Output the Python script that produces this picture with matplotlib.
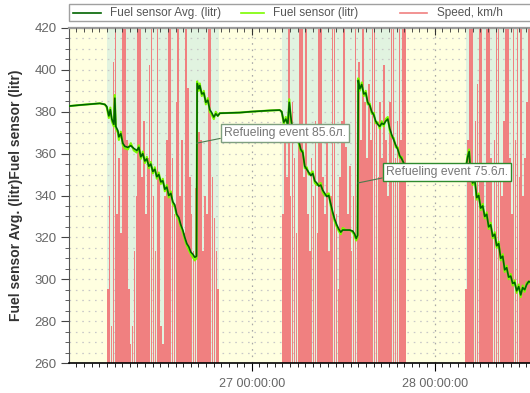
import datetime as dt
import numpy as np
import matplotlib
matplotlib.use("Agg")
import matplotlib.pyplot as plt
import matplotlib.dates as mdates
from matplotlib.lines import Line2D
from matplotlib.patches import Rectangle
from matplotlib.ticker import MultipleLocator

plt.rcParams['font.family'] = ['Liberation Sans', 'DejaVu Sans']

BASE = dt.datetime(2023, 3, 26)
X_START_H = 0.02
X_END_H = 60.5

# ---------------- data ----------------
# fuel samples: hours since 26 00:00
fuel_hours = [
    0.00, 1.44, 2.75, 4.07, 4.72, 4.98, 5.25, 5.44, 5.64, 5.90,
    6.03, 6.16, 6.43, 6.56, 6.82, 7.08, 7.34, 7.74, 8.13, 8.52,
    8.92, 9.18, 9.44, 9.70, 9.97, 10.23, 10.49, 10.75, 11.02, 11.28,
    11.54, 11.80, 12.07, 12.33, 12.59, 12.85, 13.11, 13.38, 13.64, 13.90,
    14.16, 14.43, 14.69, 14.95, 15.21, 15.48, 15.74, 16.00, 16.26, 16.52,
    16.75,
    16.83, 17.05, 17.18, 17.44, 17.70, 17.97, 18.23, 18.49, 18.75, 19.02,
    19.28, 19.54, 19.80, 22.43, 23.74, 26.36, 27.67,
    27.93, 28.20, 28.46, 28.72, 28.92, 29.11, 29.38, 29.64, 29.90, 30.16,
    30.43, 30.69, 30.95, 31.21, 31.48, 31.74, 32.00, 32.26, 32.52, 32.79,
    33.05, 33.31, 33.57, 33.84, 34.10, 34.36, 34.62, 34.89, 35.15, 35.41,
    35.67, 35.93, 36.33, 36.85, 37.25, 37.51, 37.70, 37.88,
    37.97, 38.16, 38.43, 38.69, 38.95, 39.21, 39.48, 39.74, 40.00, 40.26,
    40.52, 40.79, 41.05, 41.31, 41.57, 41.84, 42.10, 42.36, 42.62, 42.89,
    43.15, 43.41, 43.67, 43.93, 44.20, 48.13, 52.07,
    52.33, 52.52, 52.72, 52.98, 53.25, 53.51, 53.77, 54.03, 54.30, 54.56,
    54.82, 55.08, 55.34, 55.61, 55.87, 56.13, 56.39, 56.66, 56.92, 57.18,
    57.44, 57.70, 57.97, 58.23, 58.49, 58.75, 59.02, 59.28, 59.54, 59.80,
    60.07, 60.33, 60.59,
]

fuel_avg = [
    382.7, 383.2, 383.6, 384.0, 383.5, 382.5, 378.0, 381.0, 376.5, 374.0,
    386.5, 373.0, 371.0, 368.0, 369.5, 365.0, 363.5, 363.0, 363.8, 362.5,
    361.5, 363.0, 358.5, 360.0, 356.5, 357.5, 354.0, 355.0, 351.5, 352.5,
    349.0, 350.0, 346.5, 347.0, 343.0, 344.0, 340.0, 341.0, 337.0, 335.5,
    331.0, 329.5, 326.0, 323.5, 320.0, 317.0, 315.5, 313.0, 312.0, 310.5,
    311.0,
    393.5, 391.0, 392.5, 388.5, 389.0, 384.5, 385.5, 381.0, 379.5, 377.5,
    379.0, 378.0, 379.3, 379.6, 380.0, 380.6, 380.8,
    380.0, 375.0, 376.5, 374.0, 384.5, 378.0, 370.0, 371.5, 367.0, 366.0,
    362.0, 360.5, 354.0, 352.5, 351.0, 349.5, 350.5, 347.0, 346.0, 344.5,
    345.0, 342.5, 341.0, 339.5, 340.0, 336.0, 332.0, 328.5, 326.0, 324.0,
    322.5, 323.5, 323.5, 323.5, 323.0, 321.5, 319.5, 321.0,
    395.0, 391.0, 393.0, 388.5, 389.0, 384.5, 383.0, 380.0, 378.5, 375.5,
    374.0, 373.0, 374.5, 374.0, 375.5, 376.5, 372.0, 369.0, 366.5, 364.0,
    362.0, 359.0, 357.5, 355.5, 353.5, 352.0, 353.0,
    358.5, 361.0, 350.0, 346.0, 347.5, 339.0, 340.0, 334.0, 335.0, 330.0,
    331.0, 325.0, 326.0, 320.5, 321.5, 316.0, 317.0, 310.0, 311.0, 304.5,
    305.5, 301.0, 301.5, 298.0, 298.5, 294.5, 296.5, 292.5, 296.0, 295.0,
    297.5, 299.0, 298.5,
]

fuel_raw = [
    382.7, 383.2, 383.6, 384.0, 383.5, 382.0, 377.0, 382.0, 375.5, 373.0,
    388.0, 372.0, 370.0, 366.5, 370.5, 364.0, 362.5, 362.0, 365.0, 361.5,
    360.5, 364.0, 357.5, 361.0, 355.5, 358.5, 353.0, 356.0, 350.5, 353.5,
    348.0, 351.0, 345.5, 348.0, 342.0, 345.0, 339.0, 342.0, 336.0, 334.5,
    330.0, 328.5, 325.0, 322.5, 319.0, 316.0, 314.0, 312.0, 310.5, 309.0,
    310.0,
    394.5, 390.0, 393.5, 387.5, 390.0, 383.5, 386.5, 380.0, 378.5, 376.5,
    380.0, 378.0, 379.3, 379.6, 380.0, 380.6, 380.8,
    380.0, 374.0, 377.5, 373.0, 386.0, 377.0, 369.0, 372.5, 366.0, 365.0,
    361.0, 361.5, 353.0, 353.5, 350.0, 350.5, 351.5, 346.0, 345.0, 345.5,
    346.0, 341.5, 340.0, 340.5, 341.0, 335.0, 331.0, 327.5, 325.0, 323.0,
    321.5, 324.5, 323.5, 323.5, 322.5, 320.5, 318.5, 320.0,
    396.0, 390.0, 394.0, 387.5, 390.0, 383.5, 384.0, 379.0, 379.5, 374.5,
    375.0, 372.0, 375.5, 373.0, 376.5, 377.5, 371.0, 368.0, 367.5, 363.0,
    363.0, 358.0, 358.5, 354.5, 353.5, 352.0, 353.0,
    359.5, 362.0, 349.0, 345.0, 348.5, 338.0, 341.0, 333.0, 336.0, 329.0,
    332.0, 324.0, 327.0, 319.5, 322.5, 315.0, 318.0, 309.0, 312.0, 303.5,
    306.5, 300.0, 302.5, 297.0, 299.5, 293.5, 297.5, 291.5, 297.0, 294.0,
    298.5, 298.0, 299.5,
]

# speed (km/h) sampled every 15 minutes during the three trips
speed_step_h = 0.25
trip_starts_h = [5.0, 28.0, 52.0]
speed_trip1 = [
    20, 45, 10, 81, 100, 40, 55, 35, 100, 95,
    60, 20, 5, 10, 30, 45, 100, 100, 50, 65,
    40, 55, 80, 100, 45, 30, 100, 50, 10, 5,
    45, 60, 100, 100, 55, 40, 70, 100, 45, 60,
    35, 100, 74, 50, 40, 30, 47, 55, 62, 60,
    30, 45, 40, 100, 100, 50, 39, 30, 20,
]
speed_trip2 = [
    40, 60, 50, 100, 45, 70, 55, 35, 60, 100,
    100, 50, 100, 40, 30, 55, 45, 65, 35, 100,
    100, 50, 40, 60, 30, 45, 100, 100, 40, 20,
    50, 65, 100, 58, 40, 53, 30, 45, 95, 35,
    81, 60, 100, 70, 55, 75, 60, 100, 100, 65,
    50, 70, 55, 80, 60, 45, 70, 100, 100, 55,
    65, 100, 60, 100, 100,
]
speed_trip3 = [
    20, 60, 100, 100, 45, 65, 75, 100, 100, 50,
    40, 100, 100, 55, 35, 60, 100, 100, 50, 45,
    65, 100, 100, 55, 40, 100, 60, 100, 50, 100,
    45, 55, 70, 100,
]
speed_trips = [speed_trip1, speed_trip2, speed_trip3]

# movement periods (green bands), hours
moving_periods = [(5.0, 19.7), (27.95, 44.2), (52.1, 61.0)]

# refuelling events
refuel_hours = [16.79, 37.94]
refuel_levels = [365.0, 346.0]
refuel_volumes = [85.6, 75.6]

x_tick_fmt = '%d %H:%M:%S'
y_label = 'Fuel sensor Avg. (litr)Fuel sensor (litr)'
legend_labels = ['Fuel sensor Avg. (litr)', 'Fuel sensor (litr)', 'Speed, km/h']

# ---------------- helpers ----------------
def to_dt(hours):
    return [BASE + dt.timedelta(hours=float(h)) for h in hours]

C_AVG = '#006400'
C_RAW = '#7cfc00'
C_SPEED = '#f08080'
C_YELLOW = '#ffffe0'
C_GREEN = '#e1f3e0'

fig = plt.figure(figsize=(5.30, 3.93), dpi=100)
L, B, T = 69 / 530, 30 / 393, 28 / 393
ax = fig.add_axes([L, B, 1.0 - L, 1.0 - B - T])
ax.set_facecolor(C_YELLOW)

# speed on a hidden secondary scale
ax_sp = ax.twinx()
ax_sp.set_ylim(0, 90)
ax_sp.axis('off')

for a, b in moving_periods:
    ax.axvspan(to_dt([a])[0], to_dt([b])[0], color=C_GREEN, lw=0, zorder=0.1)

# speed samples as bars
sp_t, sp_v = [], []
for start, vals in zip(trip_starts_h, speed_trips):
    for i, v in enumerate(vals):
        sp_t.append(start + i * speed_step_h)
        sp_v.append(v)
sp_dates = mdates.date2num(to_dt(sp_t))
bar_w = 0.21 / 24.0
ax.bar(sp_dates, sp_v, width=bar_w, align='edge', bottom=0, color=C_SPEED, lw=0,
       antialiased=False, transform=ax_sp.transData, zorder=1)

# fuel lines
fd = to_dt(fuel_hours)
ax.plot(fd, fuel_raw, color=C_RAW, lw=1.5, zorder=3)
ax.plot(fd, fuel_avg, color=C_AVG, lw=1.2, zorder=4)

# axes limits / ticks
ax.set_xlim(BASE + dt.timedelta(hours=X_START_H), BASE + dt.timedelta(hours=X_END_H))
ax.set_ylim(260, 420)
ax.yaxis.set_major_locator(MultipleLocator(20))
ax.yaxis.set_minor_locator(MultipleLocator(5))
ax.xaxis.set_major_locator(mdates.DayLocator())
ax.xaxis.set_minor_locator(mdates.HourLocator())
ax.xaxis.set_major_formatter(mdates.DateFormatter(x_tick_fmt))

ax.set_axisbelow(True)
ax.yaxis.grid(True, which='both', color='#c8c8c8', lw=0.9, ls=(0, (1.3, 3.8)), zorder=0.5)
ax.xaxis.grid(True, which='major', color='#a8a8a8', lw=0.9, ls=(0, (1.3, 3.8)), zorder=0.5)

ax.tick_params(axis='y', which='major', length=6, color='#444', labelcolor='#666',
               labelsize=9.5, pad=3)
ax.tick_params(axis='y', which='minor', length=3, color='#444')
ax.tick_params(axis='x', which='major', length=6, color='black', labelcolor='#666',
               labelsize=9, pad=5)
ax.tick_params(axis='x', which='minor', length=3, color='black')

ax.spines['right'].set_visible(False)
ax.spines['top'].set_color('#9a9a9a')
ax.spines['top'].set_linewidth(1.6)
ax.spines['left'].set_color('#555')
ax.spines['bottom'].set_color('black')
ax.spines['bottom'].set_linewidth(1.2)

# top inner ticks
ax_top = ax.twiny()
ax_top.set_xlim(ax.get_xlim())
ax_top.xaxis.set_major_locator(mdates.DayLocator())
ax_top.xaxis.set_minor_locator(mdates.HourLocator())
ax_top.tick_params(axis='x', which='major', direction='in', length=5, color='#333',
                   labeltop=False, labelbottom=False)
ax_top.tick_params(axis='x', which='minor', direction='in', length=3, color='#333')
for s in ax_top.spines.values():
    s.set_visible(False)

ax.set_ylabel(y_label, fontsize=10, fontweight='bold', color='#333')
ax.yaxis.set_label_coords((23.5 - 69) / 461, 0.5)

# annotations
box_x_h = [20.33, 41.57]
box_y = [369.9, 351.0]
box_ec = ['#7f9f7f', '#2e8b2e']
for h, lvl, vol, bx, by, ec in zip(refuel_hours, refuel_levels, refuel_volumes,
                                   box_x_h, box_y, box_ec):
    ax.annotate(f'Refueling event {vol}л.', xy=(to_dt([h])[0], lvl),
                xytext=(to_dt([bx])[0], by), ha='left', va='center',
                fontsize=8.7, color='#777',
                bbox=dict(boxstyle='square,pad=0.25', fc='white', ec=ec, lw=1),
                arrowprops=dict(arrowstyle='-', color='#4d7a4d', lw=0.8,
                                relpos=(0, 0.1), shrinkA=0, shrinkB=0),
                zorder=6)

# legend (drawn across the top)
leg_y = (393 - 13) / 393
fig.add_artist(Rectangle((L, (393 - 21) / 393), 1.0, 17 / 393, transform=fig.transFigure,
                         fc='white', ec='#a0a0a0', lw=1))
leg_items = [((73, 101, 110), C_AVG), ((241, 264, 273), C_RAW), ((400, 427, 437), C_SPEED)]
for ((x0, x1, xt), col), lab in zip(leg_items, legend_labels):
    fig.add_artist(Line2D([x0 / 530, x1 / 530], [leg_y, leg_y], transform=fig.transFigure,
                          color=col, lw=1.2))
    fig.text(xt / 530, leg_y, lab, fontsize=8.5, color='#555', va='center', ha='left')

fig.savefig('out.png', dpi=100)
